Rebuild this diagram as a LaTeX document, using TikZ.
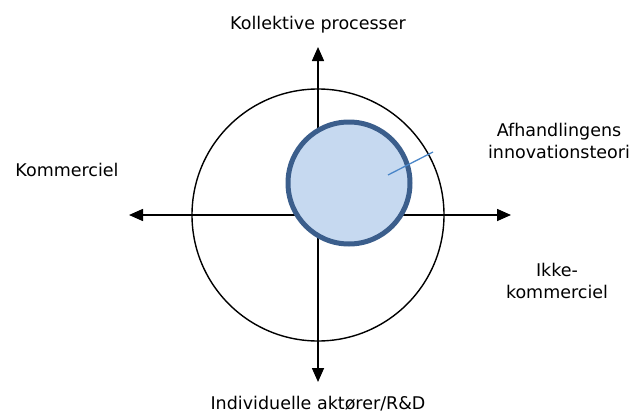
\documentclass[tikz,border=0pt]{standalone}
\usepackage{fontspec}
\setmainfont{DejaVu Sans}
\usetikzlibrary{arrows.meta}
\tikzset{modelaxis/.style={line width=1.6pt,-{Triangle[width=12pt,length=14pt]}},
  modellabel/.style={font=\fontsize{17.5}{22}\selectfont,align=center,inner sep=0pt}}

\begin{document}
\begin{tikzpicture}[x=1pt,y=1pt]
\useasboundingbox (0,0) rectangle (638,-415);
\coordinate (O) at (318,-215);
\draw[line width=1.4pt] (O) circle (126);
\coordinate (top) at (318,-47);
\coordinate (bottom) at (318,-382);
\coordinate (left) at (129,-215);
\coordinate (right) at (511,-215);
\draw[modelaxis] (O) -- (top);
\draw[modelaxis] (O) -- (bottom);
\draw[modelaxis] (O) -- (left);
\draw[modelaxis] (O) -- (right);
\draw[line width=5pt,draw={rgb,255:red,59;green,94;blue,140},fill={rgb,255:red,198;green,217;blue,240}] (349,-183) circle (61) coordinate (C);
\coordinate (pin) at (388,-175);
\coordinate (pout) at (433,-152);
\draw[line width=1.3pt,draw={rgb,255:red,74;green,134;blue,200}] (pin) -- (pout);
\node[modellabel] (kollektiv) at (318,-25) {Kollektive processer};
\node[modellabel] (kommerciel) at (67,-170) {Kommerciel};
\node[modellabel] (teori) at (559,-141) {Afhandlingens\\innovationsteori};
\node[modellabel] (ikke) at (557,-281) {Ikke-\\kommerciel};
\node[modellabel] (individ) at (318,-404) {Individuelle aktører/R\&D};
\end{tikzpicture}
\end{document}
